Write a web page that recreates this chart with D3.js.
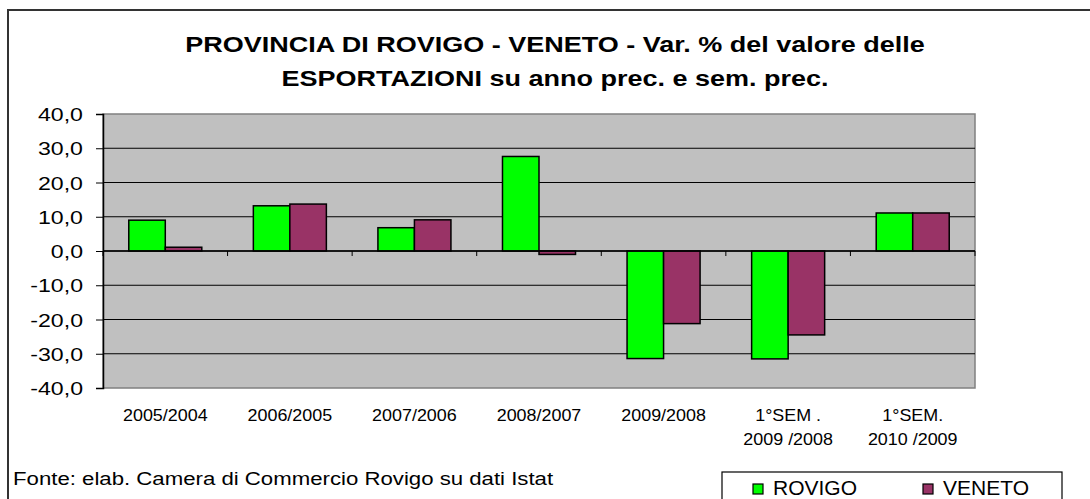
<!DOCTYPE html>
<html><head><meta charset="utf-8">
<script src="https://cdn.jsdelivr.net/npm/d3@7"></script>
<style>body{margin:0;background:#fff}svg{display:block}text{font-family:"Liberation Sans",Arial,sans-serif;fill:#000}</style>
</head><body>
<script>
const categories = ["2005/2004","2006/2005","2007/2006","2008/2007","2009/2008","1°SEM .\n2009 /2008","1°SEM.\n2010 /2009"];
const seriesNames = ["ROVIGO","VENETO"];
const rovigo = [9.0, 13.2, 6.8, 27.6, -31.4, -31.5, 11.1];
const veneto = [1.1, 13.7, 9.1, -1.0, -21.2, -24.5, 11.1];
const yTicks = [-40,-30,-20,-10,0,10,20,30,40];
const colors = ["#00ff00","#993366"];
const titleLines = ["PROVINCIA DI ROVIGO - VENETO - Var. % del valore delle","ESPORTAZIONI su anno prec. e sem. prec."];
const source = "Fonte: elab. Camera di Commercio Rovigo su dati Istat";

const W=1090,H=499;
const svg=d3.select("body").append("svg").attr("width",W).attr("height",H);
// outer frame
svg.append("rect").attr("x",8).attr("y",10).attr("width",1200).attr("height",600)
  .attr("fill","#fff").attr("stroke","#333").attr("stroke-width",2);

const L=103,R=975,T=114,B=388;
const x0=d3.scaleBand().domain(categories).range([L,R]).padding(0);
const x1=d3.scaleBand().domain(seriesNames).range([0,x0.bandwidth()]).paddingInner(0).paddingOuter(0.706);
const y=d3.scaleLinear().domain([-40,40]).range([B,T]);

svg.append("rect").attr("x",L).attr("y",T).attr("width",R-L).attr("height",B-T)
  .attr("fill","#c0c0c0").attr("stroke","#808080").attr("stroke-width",1.5);

svg.append("g").selectAll("line").data(yTicks.filter(d=>d!==-40&&d!==40)).join("line")
  .attr("x1",L).attr("x2",R).attr("y1",d=>y(d)).attr("y2",d=>y(d))
  .attr("stroke","#000").attr("stroke-width",1);

// y axis
const fmt=d=>d3.format(".1f")(d).replace(".",",").replace("\u2212","-");
const yAxis=svg.append("g").attr("transform",`translate(${L},0)`)
  .call(d3.axisLeft(y).tickValues(yTicks).tickSize(7).tickPadding(0).tickFormat(fmt));
yAxis.select(".domain").attr("stroke","#000").attr("stroke-width",1.5);
yAxis.selectAll(".tick line").attr("stroke","#000");
yAxis.selectAll(".tick text").remove();
yAxis.selectAll(".tick").append("text")
  .attr("transform","translate(-20,6.5) scale(1.25,1)")
  .attr("text-anchor","end").style("font-size","18.5px")
  .text(fmt);

// bars
const data=categories.map((c,i)=>({c,vals:[{s:"ROVIGO",v:rovigo[i]},{s:"VENETO",v:veneto[i]}]}));
const g=svg.append("g");
g.selectAll("g").data(data).join("g").attr("transform",d=>`translate(${x0(d.c)},0)`)
 .selectAll("rect").data(d=>d.vals).join("rect")
 .attr("x",d=>x1(d.s)).attr("width",x1.bandwidth())
 .attr("y",d=>y(Math.max(0,d.v))).attr("height",d=>Math.abs(y(d.v)-y(0)))
 .attr("fill",(d,i)=>colors[i]).attr("stroke","#000").attr("stroke-width",1.5);

// x axis at zero
const xAxis=svg.append("g").attr("transform",`translate(0,${y(0)})`);
xAxis.append("line").attr("x1",L).attr("x2",R).attr("stroke","#000").attr("stroke-width",1.5);
const bounds=categories.map(c=>x0(c)).concat([R]);
xAxis.selectAll("line.t").data(bounds).join("line").attr("class","t")
  .attr("x1",d=>d).attr("x2",d=>d).attr("y1",0).attr("y2",5).attr("stroke","#000");

// x labels
const xl=svg.append("g").selectAll("g").data(categories).join("g")
  .attr("transform",d=>`translate(${x0(d)+x0.bandwidth()/2},0)`);
xl.each(function(d){
  d.split("\n").forEach((t,j)=>{
    d3.select(this).append("text").attr("text-anchor","middle")
      .attr("transform",`translate(0,${421+j*23.5}) scale(1.12,1)`)
      .style("font-size","16px").text(t);
  });
});

// title
titleLines.forEach((t,i)=>{
  svg.append("text").attr("text-anchor","middle")
    .attr("transform",`translate(555,${52+i*34}) scale(1.2,1)`)
    .style("font-size","22.5px").style("font-weight","bold").text(t);
});

// source
svg.append("text").attr("transform","translate(13,485) scale(1.2,1)").style("font-size","18.5px").text(source);

// legend
svg.append("rect").attr("x",722).attr("y",472).attr("width",340).attr("height",60)
  .attr("fill","#fff").attr("stroke","#000").attr("stroke-width",1.2);
const lg=svg.append("g").selectAll("g").data(seriesNames).join("g")
  .attr("transform",(d,i)=>`translate(${[753,923][i]},0)`);
lg.append("rect").attr("x",0).attr("y",484).attr("width",10).attr("height",10)
  .attr("fill",(d,i)=>colors[i]).attr("stroke","#000").attr("stroke-width",1.2);
lg.append("text").attr("x",20).attr("y",495).style("font-size","21px").text(d=>d);
</script>
</body></html>
